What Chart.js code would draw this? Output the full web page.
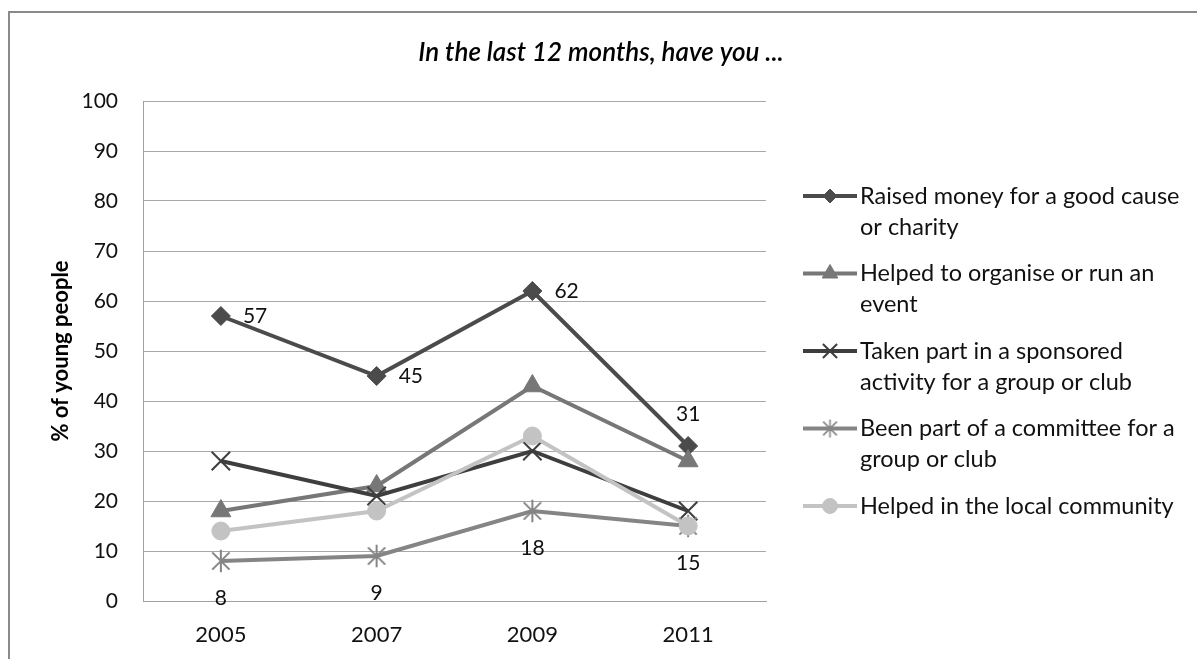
<!DOCTYPE html>
<html>
<head>
<meta charset="utf-8">
<title>In the last 12 months, have you ...</title>
<script src="https://cdn.jsdelivr.net/npm/chart.js@4/dist/chart.umd.min.js"></script>
<style>
  html, body { margin: 0; padding: 0; background: #ffffff; }
  #wrap { position: relative; width: 1197px; height: 659px; }
</style>
</head>
<body>
<div id="wrap"><canvas id="chart" width="1197" height="659"></canvas></div>
<script>
// Survey years on the category axis
const years = ['2005', '2007', '2009', '2011'];

// Share of young people (%) for each activity
const raisedMoney = [57, 45, 62, 31];
const organisedEvent = [18, 23, 43, 28];
const sponsoredActivity = [28, 21, 30, 18];
const committeeMember = [8, 9, 18, 15];
const localCommunity = [14, 18, 33, 15];

// Legend text, one entry per line of the wrapped label
const legendLines = [
  ['Raised money for a good cause', 'or charity'],
  ['Helped to organise or run an', 'event'],
  ['Taken part in a sponsored', 'activity for a group or club'],
  ['Been part of a committee for a', 'group or club'],
  ['Helped in the local community']
];

// Y axis ticks
const yTicks = { min: 0, max: 100, step: 10 };

const chartTitle = 'In the last 12 months, have you ...';
const yTitle = '% of young people';

const FONT = 'Lato, "Open Sans", sans-serif';

// Asterisk marker: an X with a vertical bar through it
function asteriskMarker(size, color, width) {
  const c = document.createElement('canvas');
  c.width = size; c.height = size;
  const g = c.getContext('2d');
  const m = size / 2, a = size * 0.36, v = size * 0.47;
  g.strokeStyle = color;
  g.lineWidth = width;
  g.beginPath();
  g.moveTo(m - a, m - a); g.lineTo(m + a, m + a);
  g.moveTo(m + a, m - a); g.lineTo(m - a, m + a);
  g.moveTo(m, m - v); g.lineTo(m, m + v);
  g.stroke();
  return c;
}

function series(values, lines, color, pointStyle, radius, extra) {
  return Object.assign({
    label: lines.join(' '),
    data: values,
    borderColor: color,
    backgroundColor: color,
    pointBackgroundColor: color,
    pointBorderColor: color,
    pointStyle: pointStyle,
    pointRadius: radius,
    pointHoverRadius: radius,
    pointBorderWidth: 1,
    borderWidth: 4,
    tension: 0,
    fill: false
  }, extra || {});
}

const datasets = [
  series(raisedMoney, legendLines[0], '#4b4b4b', 'rectRot', 9.5, { order: 5 }),
  series(organisedEvent, legendLines[1], '#777777', 'triangle', 11.5, { order: 4 }),
  series(sponsoredActivity, legendLines[2], '#3e3e3e', 'crossRot', 13, { order: 3, pointBorderWidth: 2 }),
  series(committeeMember, legendLines[3], '#858585', asteriskMarker(24, '#858585', 2), 12, { order: 2 }),
  series(localCommunity, legendLines[4], '#c3c3c3', 'circle', 9, { order: 1 })
];

// Legend marker for each series
const legendMarkers = [
  { style: 'rectRot', r: 7 },
  { style: 'triangle', r: 9 },
  { style: 'crossRot', r: 10 },
  { style: asteriskMarker(19, '#858585', 1.6), r: 9 },
  { style: 'circle', r: 7.5 }
];

// Where the value labels sit relative to their point, per labelled series
const valueLabels = {
  0: ['right', 'right', 'right', 'above'],
  3: ['below', 'below', 'below', 'below']
};

// Frame, title, wrapped legend and value labels
const decorPlugin = {
  id: 'decor',
  beforeDraw(chart) {
    const ctx = chart.ctx;
    ctx.save();
    ctx.fillStyle = '#ffffff';
    ctx.fillRect(0, 0, chart.width, chart.height);
    ctx.strokeStyle = '#8a8a8a';
    ctx.lineWidth = 2;
    ctx.beginPath();
    ctx.moveTo(9, chart.height + 2);
    ctx.lineTo(9, 12);
    ctx.lineTo(chart.width + 2, 12);
    ctx.stroke();
    ctx.restore();
  },
  afterDraw(chart) {
    const ctx = chart.ctx;
    ctx.save();

    // Title
    ctx.fillStyle = '#000000';
    ctx.font = 'italic 600 26px ' + FONT;
    ctx.textAlign = 'center';
    ctx.textBaseline = 'middle';
    ctx.fillText(chartTitle, 601, 53);

    // Value labels
    ctx.font = '21px ' + FONT;
    ctx.fillStyle = '#111111';
    Object.keys(valueLabels).forEach(key => {
      const i = Number(key);
      const meta = chart.getDatasetMeta(i);
      const values = chart.data.datasets[i].data;
      meta.data.forEach((pt, j) => {
        const pos = valueLabels[key][j];
        let x = pt.x, y = pt.y;
        if (pos === 'right') { ctx.textAlign = 'left'; x += 22; }
        else if (pos === 'above') { ctx.textAlign = 'center'; y -= 32; }
        else if (pos === 'below') { ctx.textAlign = 'center'; y += 37; }
        ctx.textBaseline = 'middle';
        ctx.fillText(String(values[j]), x, y);
      });
    });

    // Legend
    const lx0 = 803, lx1 = 857, tx = 860;
    let y = 196;
    ctx.font = '23.5px ' + FONT;
    ctx.textAlign = 'left';
    ctx.textBaseline = 'middle';
    chart.data.datasets.forEach((ds, i) => {
      ctx.strokeStyle = ds.borderColor;
      ctx.lineWidth = ds.borderWidth;
      ctx.beginPath();
      ctx.moveTo(lx0, y);
      ctx.lineTo(lx1, y);
      ctx.stroke();
      const mk = legendMarkers[i];
      ctx.fillStyle = ds.pointBackgroundColor;
      ctx.strokeStyle = ds.pointBorderColor;
      ctx.lineWidth = ds.pointBorderWidth;
      Chart.helpers.drawPoint(ctx, {
        pointStyle: mk.style,
        radius: mk.r,
        rotation: 0,
        borderWidth: ds.pointBorderWidth
      }, (lx0 + lx1) / 2, y);
      ctx.fillStyle = '#111111';
      legendLines[i].forEach((t, k) => ctx.fillText(t, tx, y + k * 31));
      y += 77.5;
    });
    ctx.restore();
  }
};

new Chart(document.getElementById('chart'), {
  type: 'line',
  data: { labels: years, datasets: datasets },
  options: {
    responsive: false,
    animation: false,
    events: [],
    layout: { padding: { left: 9, right: 431, top: 101, bottom: 0 } },
    plugins: {
      legend: { display: false },
      title: { display: false },
      tooltip: { enabled: false }
    },
    scales: {
      x: {
        offset: true,
        grid: { display: false, drawTicks: false },
        border: { display: true, color: '#a0a0a0', width: 1 },
        ticks: { color: '#111111', font: { family: FONT, size: 22 }, padding: 21 },
        afterFit(scale) { scale.height = 58; }
      },
      y: {
        min: yTicks.min,
        max: yTicks.max,
        grid: { color: '#a8a8a8', lineWidth: 1, drawTicks: false },
        border: { display: true, color: '#a0a0a0', width: 1 },
        ticks: { stepSize: yTicks.step, color: '#111111', font: { family: FONT, size: 21 }, padding: 25 },
        title: {
          display: true,
          text: yTitle,
          color: '#000000',
          font: { family: FONT, size: 22, weight: 'bold' },
          padding: { top: 39, bottom: 0 }
        },
        afterFit(scale) { scale.width = 134; }
      }
    }
  },
  plugins: [decorPlugin]
});
</script>
</body>
</html>
